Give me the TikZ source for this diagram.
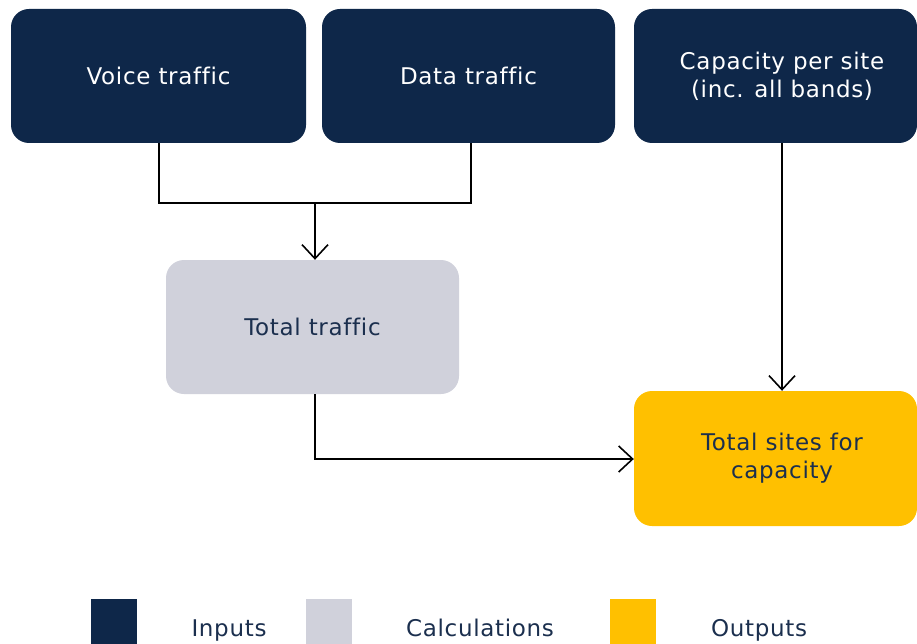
\documentclass[tikz,border=0pt]{standalone}
\usepackage{fontspec}
\setmainfont{DejaVu Sans}[LetterSpace=3,Ligatures=NoCommon]
\usetikzlibrary{arrows.meta}
\definecolor{navy}{HTML}{0E2749}
\definecolor{calcgray}{HTML}{D0D1DB}
\definecolor{outyellow}{HTML}{FFC000}
\definecolor{darktext}{HTML}{1B2F4E}
\tikzset{
  box/.style={rectangle, rounded corners=18pt, inner sep=0pt, align=center,
    font=\fontsize{23}{28}\selectfont},
  inbox/.style={box, fill=navy, text=white},
  calcbox/.style={box, fill=calcgray, text=darktext},
  outbox/.style={box, fill=outyellow, text=darktext},
  legsq/.style={rectangle, inner sep=0pt, minimum width=46pt, minimum height=45pt},
  leglabel/.style={text=darktext, anchor=base, font=\fontsize{23}{28}\selectfont},
  conn/.style={line width=1.6pt, black},
  arr/.style={conn, -{Straight Barb[length=14pt,width=26pt,line width=1.6pt]}}
}
\begin{document}
\begin{tikzpicture}[x=1pt,y=-1pt]
\useasboundingbox (0,0) rectangle (917,644);
\node[inbox, minimum width=295pt, minimum height=134pt] (voice) at (158.5,76) {Voice traffic};
\node[inbox, minimum width=293pt, minimum height=134pt] (data) at (468.5,76) {Data traffic};
\node[inbox, minimum width=283pt, minimum height=134pt] (cap) at (775.5,76) {\hspace{13pt}Capacity per site\\\hspace{13pt}(inc. all bands)};
\node[calcbox, minimum width=293pt, minimum height=134pt] (total) at (312.5,327) {Total traffic};
\node[outbox, minimum width=283pt, minimum height=135pt] (sites) at (775.5,458.5) {\hspace{13pt}Total sites for\\\hspace{13pt}capacity};

\coordinate (vj) at (159,203);
\coordinate (dj) at (471,203);
\coordinate (mj) at (315,203);
\coordinate (tj) at (315,459);

\draw[conn] (voice.south -| vj) -- (vj) -- (dj) -- (data.south -| dj);
\draw[arr] (mj) -- (total.north -| mj);
\draw[arr] (cap.south -| 782,0) -- (sites.north -| 782,0);
\draw[arr] (total.south -| tj) -- (tj) -- (sites.west |- tj);

\node[legsq, fill=navy] (lin) at (114,621.5) {};
\node[leglabel] (lint) at (229,636) {Inputs};
\node[legsq, fill=calcgray] (lcalc) at (329,621.5) {};
\node[leglabel] (lcalct) at (480,636) {Calculations};
\node[legsq, fill=outyellow] (lout) at (633,621.5) {};
\node[leglabel] (loutt) at (759,636) {Outputs};
\end{tikzpicture}
\end{document}
